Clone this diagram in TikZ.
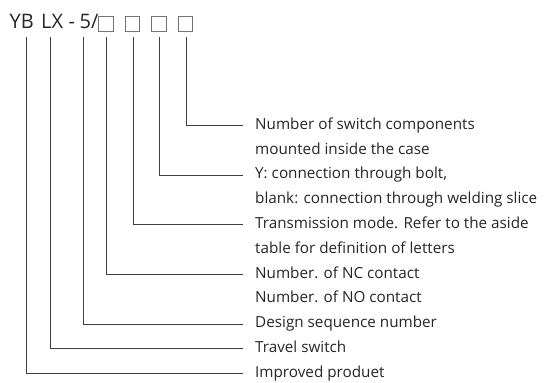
\documentclass[tikz,border=0pt]{standalone}
\usepackage{fontspec}
\setmainfont{Open Sans}
\begin{document}
\begin{tikzpicture}[x=1pt,y=-1pt,
  conn/.style={draw=black!75,line width=0.8pt},
  lab/.style={anchor=west,inner xsep=12pt,inner ysep=0pt,font=\fontsize{15.25}{17}\selectfont,text=black!85,text height=10.5pt,text depth=3pt},
  ttl/.style={anchor=base west,inner sep=0pt,font=\fontsize{20}{22}\selectfont,text=black!85},
  sq/.style={draw=black!55,line width=0.8pt,minimum size=14.5pt,inner sep=0pt}]
\useasboundingbox (0,0) rectangle (550,383);
% title
\node[ttl] (yb) at (9.5,28.5) {YB};
\node[ttl] (lx) at (41,28.5) {LX};
\node[ttl] (dash) at (68.5,28.5) {-};
\node[ttl] (five) at (79.5,28.5) {5/};
\node[sq] (b1) at (106,23.8) {};
\node[sq] (b2) at (132.3,23.8) {};
\node[sq] (b3) at (158.7,23.8) {};
\node[sq] (b4) at (185.2,23.8) {};
% line tops
\coordinate (t1) at (26,37);
\coordinate (t2) at (50,37);
\coordinate (t3) at (83,37);
\coordinate (t4) at (106.5,37);
\coordinate (t5) at (133.5,37);
\coordinate (t6) at (159,37);
\coordinate (t7) at (186.5,37);
% labels
\node[lab] (l1) at (243,125.5) {Number of switch components};
\node[lab] (l1b) at (243,150.3) {mounted inside the case};
\node[lab] (l2) at (243,175.1) {Y: connection through bolt,};
\node[lab] (l2b) at (243,199.9) {blank: connection through welding slice};
\node[lab] (l3) at (243,224.7) {Transmission mode. Refer to the aside};
\node[lab] (l3b) at (243,249.5) {table for definition of letters};
\node[lab] (l4) at (243,274.3) {Number. of NC contact};
\node[lab] (l4b) at (243,299.1) {Number. of NO contact};
\node[lab] (l5) at (243,323.9) {Design sequence number};
\node[lab] (l6) at (243,348.7) {Travel switch};
\node[lab] (l7) at (243,373.5) {Improved produet};
% connectors
\draw[conn] (t7) |- (l1.west);
\draw[conn] (t6) |- (l2.west);
\draw[conn] (t5) |- (l3.west);
\draw[conn] (t4) |- (l4.west);
\draw[conn] (t3) |- (l5.west);
\draw[conn] (t2) |- (l6.west);
\draw[conn] (t1) |- (l7.west);
\end{tikzpicture}
\end{document}
